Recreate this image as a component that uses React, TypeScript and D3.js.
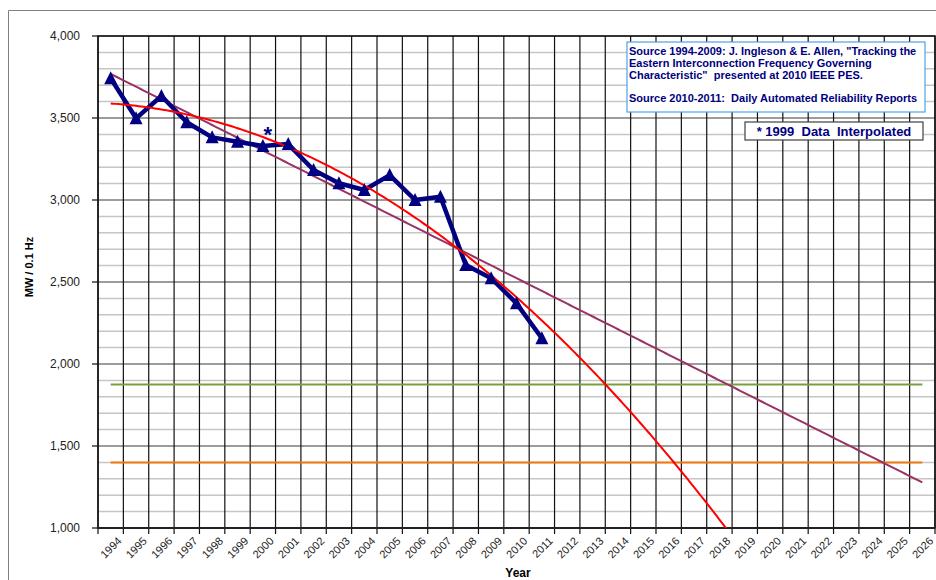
import React from "react";
import * as d3 from "d3";

const categories = [
  "1994","1995","1996","1997","1998","1999","2000","2001","2002","2003","2004",
  "2005","2006","2007","2008","2009","2010","2011","2012","2013","2014","2015",
  "2016","2017","2018","2019","2020","2021","2022","2023","2024","2025","2026",
];
const dataYears = [
  "1994","1995","1996","1997","1998","1999","2000","2001","2002",
  "2003","2004","2005","2006","2007","2008","2009","2010","2011",
];
const frequencyResponse = [
  3742, 3498, 3634, 3474, 3382, 3355, 3329, 3341, 3183,
  3102, 3061, 3152, 3000, 3020, 2604, 2523, 2370, 2157,
];
const yTicks = [1000, 1500, 2000, 2500, 3000, 3500, 4000];
const greenLevel = [1875];
const orangeLevel = [1400];
const sourceLines = [
  "Source 1994-2009: J. Ingleson & E. Allen, \"Tracking the",
  "Eastern Interconnection Frequency Governing",
  "Characteristic\"  presented at 2010 IEEE PES.",
  "",
  "Source 2010-2011:  Daily Automated Reliability Reports",
];
const noteText = "* 1999  Data  Interpolated";

// least squares polynomial fit (as Excel trendline)
function polyFit(xs: number[], ys: number[], order: number): number[] {
  const n = order + 1;
  const A: number[][] = Array.from({ length: n }, () => new Array(n + 1).fill(0));
  for (let r = 0; r < n; r++) {
    for (let c = 0; c < n; c++) {
      A[r][c] = d3.sum(xs, (x) => Math.pow(x, r + c));
    }
    A[r][n] = d3.sum(xs, (x, i) => Math.pow(x, r) * ys[i]);
  }
  for (let i = 0; i < n; i++) {
    let p = i;
    for (let k = i + 1; k < n; k++) if (Math.abs(A[k][i]) > Math.abs(A[p][i])) p = k;
    [A[i], A[p]] = [A[p], A[i]];
    for (let k = i + 1; k < n; k++) {
      const f = A[k][i] / A[i][i];
      for (let j = i; j <= n; j++) A[k][j] -= f * A[i][j];
    }
  }
  const coef = new Array(n).fill(0);
  for (let i = n - 1; i >= 0; i--) {
    let s = A[i][n];
    for (let j = i + 1; j < n; j++) s -= A[i][j] * coef[j];
    coef[i] = s / A[i][i];
  }
  return coef;
}
const evalPoly = (c: number[], x: number) => c.reduce((s, a, i) => s + a * Math.pow(x, i), 0);

export default function App() {
  const W = 936, H = 580;
  const left = 98, right = 935, top = 36, bottom = 528;
  const x = d3.scaleBand<string>().domain(categories).range([left, right]).padding(0);
  const bw = x.bandwidth();
  const cx = (c: string) => (x(c) as number) + bw / 2;
  const y = d3.scaleLinear().domain([1000, 4000]).range([bottom, top]);
  const xi = d3.scaleLinear().domain([0, categories.length - 1]).range([cx(categories[0]), cx(categories[categories.length - 1])]);

  const idx = dataYears.map((_, i) => i + 1);
  const lin = polyFit(idx, frequencyResponse, 1);
  const quad = polyFit(idx, frequencyResponse, 2);
  const samples = d3.range(0, categories.length - 1 + 0.001, 0.1);
  const lineGen = d3.line<number>().x((t) => xi(t)).y((t) => y(evalPoly(quad, t + 1)));
  const linGen = d3.line<number>().x((t) => xi(t)).y((t) => y(evalPoly(lin, t + 1)));
  const dataLine = d3.line<number>().x((_, i) => cx(dataYears[i])).y((v) => y(v));

  const minor = d3.range(1000, 4001, 100);
  const boundaries = d3.range(categories.length + 1).map((i) => left + i * bw);
  const font = "'Liberation Sans', Arial, sans-serif";
  const navy = "#000080";

  return (
    <svg width={W} height={H} style={{ position: "absolute", left: 0, top: 0, background: "#fff" }}>
      <defs>
        <clipPath id="plotclip">
          <rect x={left} y={top} width={right - left} height={bottom - top} />
        </clipPath>
      </defs>
      <rect x={0} y={0} width={W} height={H} fill="#fff" />
      {/* chart area border */}
      <path d={`M8.5,${H} V10.5 H${W}`} fill="none" stroke="#808080" strokeWidth={1} />

      {/* horizontal grid */}
      {minor.map((v) => (
        <line key={"h" + v} x1={left} x2={right} y1={y(v)} y2={y(v)}
          stroke={v % 500 === 0 ? "#3a3a3a" : "#c6c6c6"} strokeWidth={v % 500 === 0 ? 1.2 : 1.5} />
      ))}
      {/* vertical grid */}
      {boundaries.map((bx, i) => (
        <line key={"v" + i} x1={bx} x2={bx} y1={top} y2={bottom + 6} stroke="#111" strokeWidth={1.2} />
      ))}
      {/* plot border */}
      <rect x={left} y={top} width={right - left} height={bottom - top} fill="none" stroke="#111" strokeWidth={1.5} />
      <line x1={left} x2={right} y1={bottom} y2={bottom} stroke="#222" strokeWidth={2} />

      {/* y ticks */}
      {yTicks.map((v) => (
        <g key={"yt" + v}>
          <line x1={left - 6} x2={left} y1={y(v)} y2={y(v)} stroke="#111" strokeWidth={1.2} />
          <text x={80} y={y(v) + 4} textAnchor="end" fontFamily={font} fontSize={12} fill="#222">
            {d3.format(",")(v)}
          </text>
        </g>
      ))}
      {/* x labels */}
      {categories.map((c) => (
        <text key={"xl" + c} transform={`translate(${cx(c) + 6},${bottom + 8}) rotate(-45)`}
          textAnchor="end" dominantBaseline="hanging" fontFamily={font} fontSize={11} fill="#222">
          {c}
        </text>
      ))}

      {/* level lines */}
      {greenLevel.map((v) => (
        <line key="g" x1={cx(categories[0])} x2={cx(categories[categories.length - 1])} y1={y(v)} y2={y(v)}
          stroke="#77A03C" strokeWidth={2} />
      ))}
      {orangeLevel.map((v) => (
        <line key="o" x1={cx(categories[0])} x2={cx(categories[categories.length - 1])} y1={y(v)} y2={y(v)}
          stroke="#F07810" strokeWidth={2} />
      ))}

      <g clipPath="url(#plotclip)">
        <path d={linGen(samples) as string} fill="none" stroke="#993366" strokeWidth={2} />
        <path d={dataLine(frequencyResponse) as string} fill="none" stroke={navy} strokeWidth={4.5} strokeLinejoin="round" />
        <path d={lineGen(samples) as string} fill="none" stroke="#FF0000" strokeWidth={2} />
      </g>
      {frequencyResponse.map((v, i) => (
        <path key={"m" + i} transform={`translate(${cx(dataYears[i])},${y(v)})`} d="M0,-7 L6.5,6 L-6.5,6 Z" fill={navy} />
      ))}
      <text x={cx("2000") + 5} y={y(3341) - 2} textAnchor="middle" fontFamily={font} fontSize={22} fontWeight="bold" fill={navy}>*</text>

      {/* annotation boxes */}
      <rect x={627} y={42} width={298} height={70} fill="#fff" stroke="#4CA3E8" strokeWidth={1.2} />
      {sourceLines.map((s, i) => (
        <text key={"s" + i} x={629} y={55 + i * 11.8} fontFamily={font} fontSize={11} fontWeight="bold" fill={navy}
          style={{ whiteSpace: "pre" }}>{s}</text>
      ))}
      <rect x={745} y={122} width={178} height={18} fill="#fff" stroke="#404040" strokeWidth={1.2} />
      <text x={834} y={136} textAnchor="middle" fontFamily={font} fontSize={13} fontWeight="bold" fill={navy}
        style={{ whiteSpace: "pre" }}>{noteText}</text>

      {/* axis titles */}
      <text transform={`translate(33,267) rotate(-90)`} textAnchor="middle" fontFamily={font} fontSize={11} fontWeight="bold" fill="#000">MW / 0.1 Hz</text>
      <text x={518} y={577} textAnchor="middle" fontFamily={font} fontSize={12} fontWeight="bold" fill="#000">Year</text>
    </svg>
  );
}
